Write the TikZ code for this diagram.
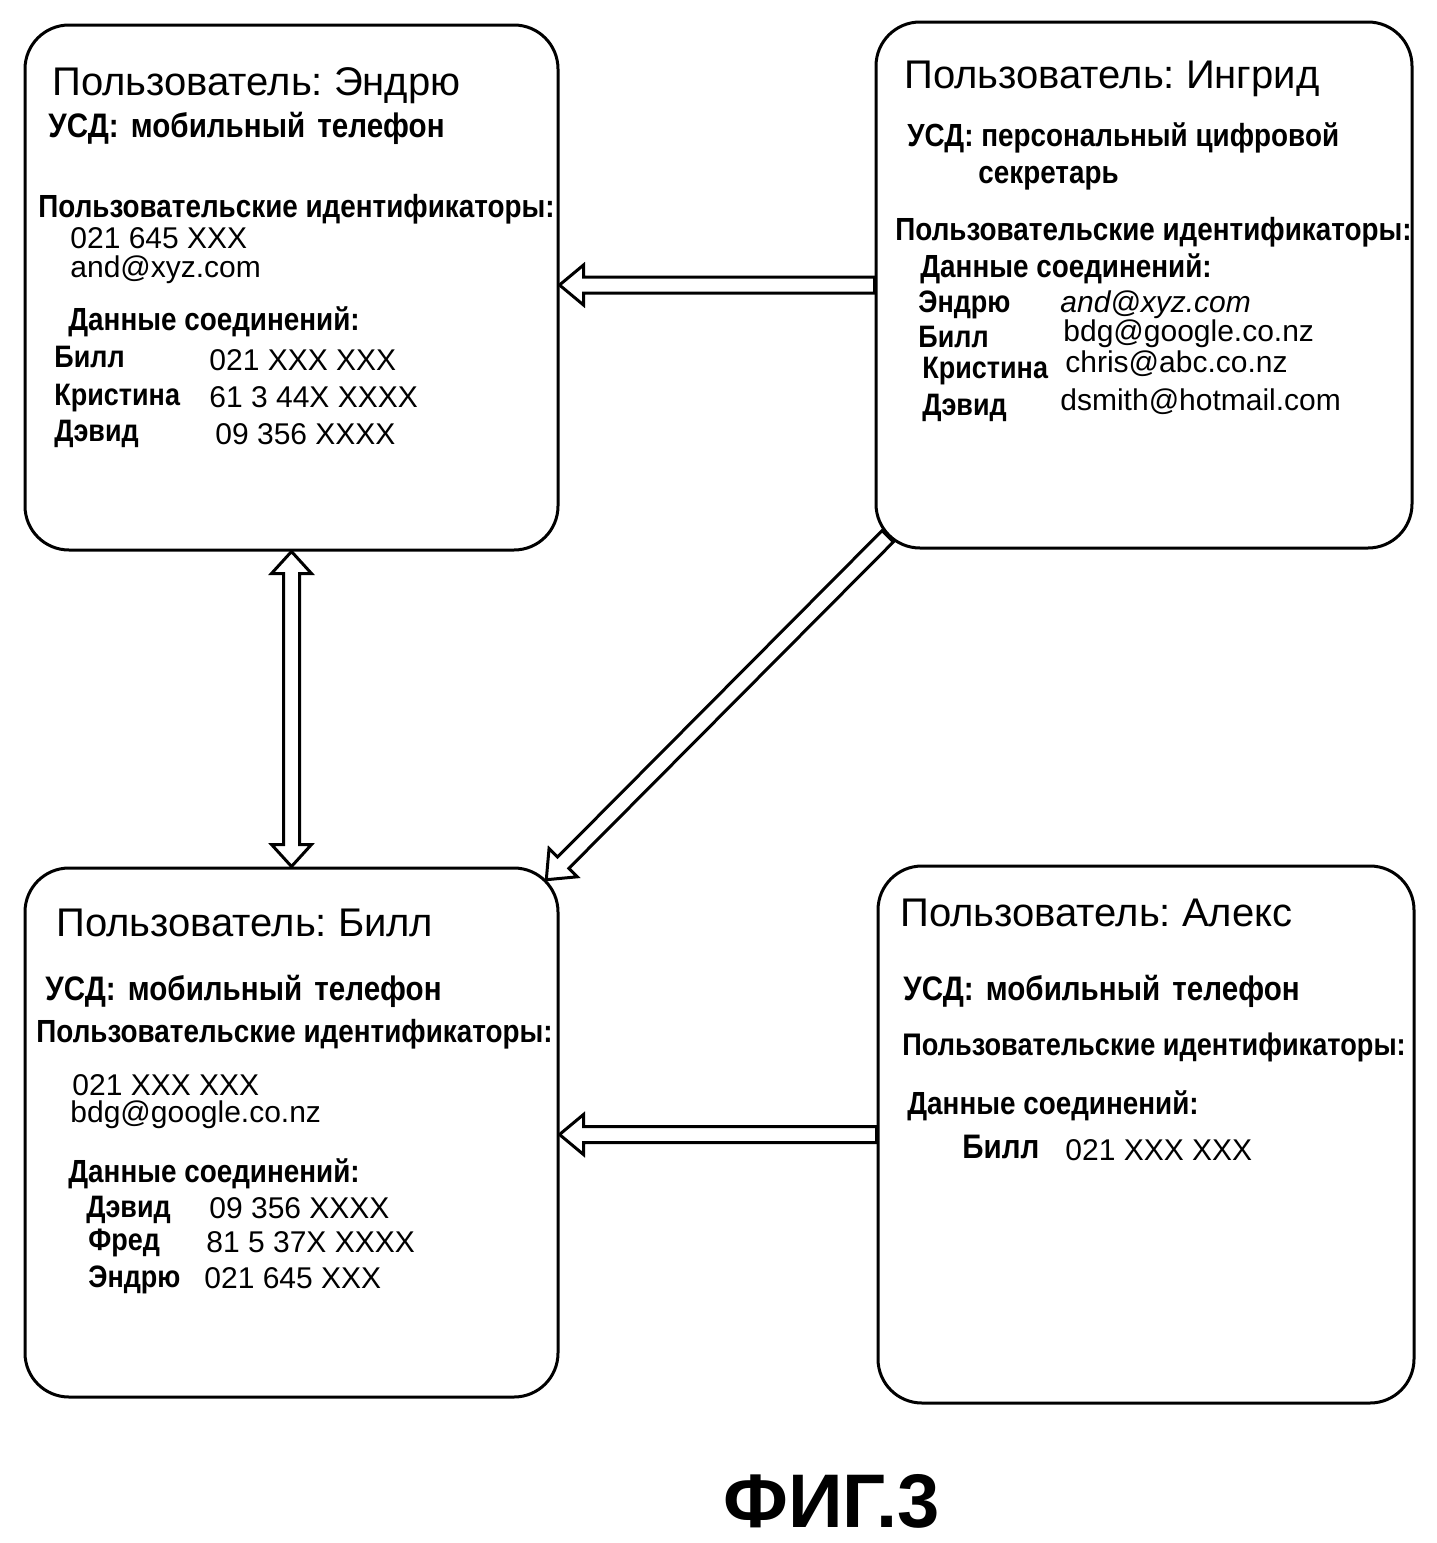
\documentclass[tikz,border=0pt]{standalone}
\usepackage{fontspec}
\setmainfont{Liberation Sans}
\newfontfamily\lblfont[FakeStretch=0.87]{Liberation Sans}
\usetikzlibrary{calc}
\frenchspacing
\tikzset{
  box/.style={draw, line width=1.5pt, rectangle, rounded corners=22pt, inner sep=0pt},
  txt/.style={inner sep=0pt, anchor=base west},
  ttl/.style={txt, font=\fontsize{20}{24}\selectfont},
  usd/.style={txt, font=\lblfont\bfseries\fontsize{17}{20}\selectfont},
  usdi/.style={txt, font=\lblfont\bfseries\fontsize{16}{19}\selectfont},
  lbl/.style={txt, font=\lblfont\bfseries\fontsize{16}{19}\selectfont},
  lbls/.style={txt, font=\lblfont\bfseries\fontsize{15.6}{19}\selectfont},
  nm/.style={txt, font=\lblfont\bfseries\fontsize{15.5}{18}\selectfont},
  val/.style={txt, font=\fontsize{15}{18}\selectfont},
  ival/.style={txt, font=\itshape\fontsize{15}{18}\selectfont},
  arr/.style={draw, line width=1.5pt, line join=miter},
}
\newcommand\sarrow[2]{%
  \path[arr] let \p1=(#1), \p2=(#2), \n1={atan2(\y2-\y1,\x2-\x1)}, \n2={veclen(\x2-\x1,\y2-\y1)} in
    ([shift={(\p1)},rotate=\n1]0pt,4pt) -- ([shift={(\p1)},rotate=\n1]\n2-12pt,4pt)
    -- ([shift={(\p1)},rotate=\n1]\n2-12pt,10pt) -- ([shift={(\p1)},rotate=\n1]\n2,0pt)
    -- ([shift={(\p1)},rotate=\n1]\n2-12pt,-10pt) -- ([shift={(\p1)},rotate=\n1]\n2-12pt,-4pt)
    -- ([shift={(\p1)},rotate=\n1]0pt,-4pt) -- cycle;}
\newcommand\darrow[2]{%
  \path[arr] let \p1=(#1), \p2=(#2), \n1={atan2(\y2-\y1,\x2-\x1)}, \n2={veclen(\x2-\x1,\y2-\y1)} in
    ([shift={(\p1)},rotate=\n1]0pt,0pt) -- ([shift={(\p1)},rotate=\n1]11pt,10pt)
    -- ([shift={(\p1)},rotate=\n1]11pt,4pt) -- ([shift={(\p1)},rotate=\n1]\n2-11pt,4pt)
    -- ([shift={(\p1)},rotate=\n1]\n2-11pt,10pt) -- ([shift={(\p1)},rotate=\n1]\n2,0pt)
    -- ([shift={(\p1)},rotate=\n1]\n2-11pt,-10pt) -- ([shift={(\p1)},rotate=\n1]\n2-11pt,-4pt)
    -- ([shift={(\p1)},rotate=\n1]11pt,-4pt) -- ([shift={(\p1)},rotate=\n1]11pt,-10pt) -- cycle;}
\begin{document}
\begin{tikzpicture}[x=0.5pt, y=-0.5pt]
\fill[white] (0,0) rectangle (1436,1543);
\useasboundingbox (0,0) rectangle (1436,1543);
% boxes
\node[box, minimum width=266.5pt, minimum height=262.5pt] (andrew) at (291.5,287.5) {};
\node[box, minimum width=268pt, minimum height=263pt] (ingrid) at (1144,285) {};
\node[box, minimum width=266.5pt, minimum height=264.5pt] (bill) at (291.5,1132.5) {};
\node[box, minimum width=268pt, minimum height=268.5pt] (alex) at (1146,1134.5) {};
% Andrew
\node[ttl] (at) at (52,95) {Пользователь: Эндрю};
\node[usd] (au) at (48,137) {УСД:\hspace{2pt} мобильный\hspace{2pt} телефон};
\node[lbl] (ai) at (38,217) {Пользовательские идентификаторы:};
\node[val] (ai1) at (70,248) {021 645 XXX};
\node[val] (ai2) at (70,277) {and@xyz.com};
\node[lbl] (ac) at (68,330) {Данные соединений:};
\node[nm] (an1) at (54,367) {Билл};
\node[val] (av1) at (209,370) {021 XXX XXX};
\node[nm] (an2) at (54,405) {Кристина};
\node[val] (av2) at (209,407) {61 3 44X XXXX};
\node[nm] (an3) at (54,441) {Дэвид};
\node[val] (av3) at (215,444) {09 356 XXXX};
% Ingrid
\node[ttl] (it) at (904,88) {Пользователь: Ингрид};
\node[usdi] (iu) at (907,146) {УСД: персональный цифровой};
\node[usdi] (iu2) at (978,183) {секретарь};
\node[lbl] (ii) at (895,240) {Пользовательские идентификаторы:};
\node[lbl] (ic) at (920,277) {Данные соединений:};
\node[nm] (in1) at (918,312) {Эндрю};
\node[ival] (iv1) at (1060,312) {and@xyz.com};
\node[nm] (in2) at (918,347) {Билл};
\node[val] (iv2) at (1063,341) {bdg@google.co.nz};
\node[nm] (in3) at (922,378) {Кристина};
\node[val] (iv3) at (1065,372) {chris@abc.co.nz};
\node[nm] (in4) at (922,415) {Дэвид};
\node[val] (iv4) at (1060,410) {dsmith@hotmail.com};
% Bill
\node[ttl] (bt) at (56,936) {Пользователь: Билл};
\node[usd] (bu) at (45,1000) {УСД:\hspace{2pt} мобильный\hspace{2pt} телефон};
\node[lbl] (bi) at (36,1042) {Пользовательские идентификаторы:};
\node[val] (bi1) at (72,1095) {021 XXX XXX};
\node[val] (bi2) at (70,1122) {bdg@google.co.nz};
\node[lbl] (bc) at (68,1182) {Данные соединений:};
\node[nm] (bn1) at (86,1217) {Дэвид};
\node[val] (bv1) at (209,1218) {09 356 XXXX};
\node[nm] (bn2) at (88,1250) {Фред};
\node[val] (bv2) at (206,1252) {81 5 37X XXXX};
\node[nm] (bn3) at (88,1287) {Эндрю};
\node[val] (bv3) at (204,1288) {021 645 XXX};
% Alex
\node[ttl] (xt) at (900,926) {Пользователь: Алекс};
\node[usd] (xu) at (903,1000) {УСД:\hspace{2pt} мобильный\hspace{2pt} телефон};
\node[lbls] (xi) at (902,1055) {Пользовательские идентификаторы:};
\node[lbl] (xc) at (907,1114) {Данные соединений:};
\node[usd] (xn1) at (962,1158) {Билл};
\node[val] (xv1) at (1065,1160) {021 XXX XXX};
% figure label
\node[txt, font=\bfseries\fontsize{38}{44}\selectfont] (fig) at (723,1527) {ФИГ.3};
% arrows
\sarrow{ingrid.west}{andrew.east |- ingrid.west}
\sarrow{alex.west}{bill.east |- alex.west}
\darrow{andrew.south}{bill.north}
\sarrow{$(ingrid.south west)+(6.6pt,6.6pt)$}{$(bill.north east)+(-6.6pt,-6.6pt)$}
\end{tikzpicture}
\end{document}
